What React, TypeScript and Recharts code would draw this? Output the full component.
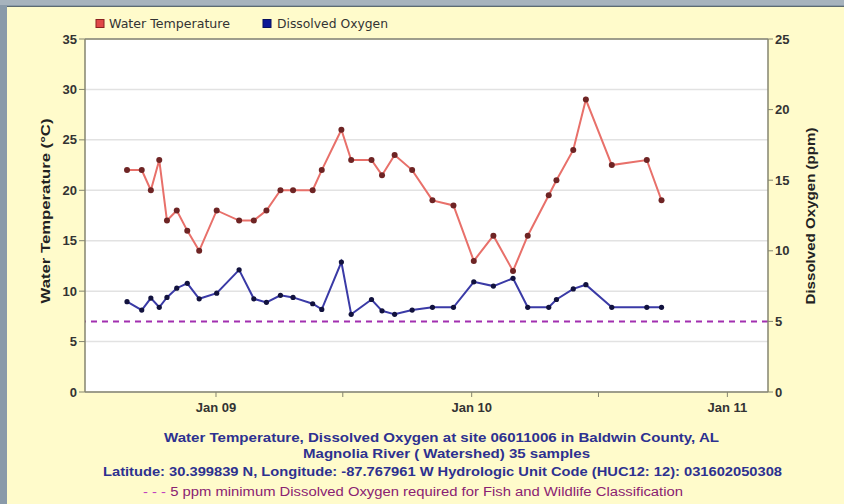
import React from 'react';
import { LineChart, Line, XAxis, YAxis, CartesianGrid, ReferenceLine } from 'recharts';

// ---- data ----
const sampleDates = [
  '2008-08-27', '2008-09-17', '2008-09-30', '2008-10-12', '2008-10-23', '2008-11-06', '2008-11-21',
  '2008-12-08', '2009-01-02', '2009-02-03', '2009-02-24', '2009-03-14', '2009-04-03', '2009-04-21',
  '2009-05-19', '2009-06-01', '2009-06-29', '2009-07-13', '2009-08-11', '2009-08-26', '2009-09-13',
  '2009-10-08', '2009-11-06', '2009-12-06', '2010-01-04', '2010-02-01', '2010-03-01', '2010-03-22',
  '2010-04-21', '2010-05-02', '2010-05-26', '2010-06-13', '2010-07-20', '2010-09-08', '2010-09-29',
];
const waterTemperature = [
  22, 22, 20, 23, 17, 18, 16, 14, 18, 17, 17, 18, 20, 20, 20, 22, 26, 23, 23, 21.5, 23.5, 22, 19,
  18.5, 13, 15.5, 12, 15.5, 19.5, 21, 24, 29, 22.5, 23, 19,
];
const dissolvedOxygen = [
  6.4, 5.8, 6.65, 6.0, 6.7, 7.35, 7.7, 6.6, 7.0, 8.65, 6.6, 6.35, 6.85, 6.7, 6.25, 5.85, 9.2, 5.5,
  6.55, 5.75, 5.5, 5.8, 6.0, 6.0, 7.8, 7.5, 8.05, 6.0, 6.0, 6.55, 7.3, 7.6, 6.0, 6.0, 6.0,
];
const xTickDates = ['2009-01-01', '2009-07-01', '2010-01-01', '2010-07-01', '2011-01-01'];
const xTickLabels = ['Jan 09', '', 'Jan 10', '', 'Jan 11'];
const xDomainDates = ['2008-06-28', '2011-02-28'];
const leftTicks = [0, 5, 10, 15, 20, 25, 30, 35];
const rightTicks = [0, 5, 10, 15, 20, 25];
const doMinimum = 5;

const seriesNames = ['Water Temperature', 'Dissolved Oxygen'];
const titleLines = [
  'Water Temperature, Dissolved Oxygen at site 06011006 in Baldwin County, AL',
  'Magnolia River ( Watershed) 35 samples',
  'Latitude: 30.399839 N, Longitude: -87.767961 W Hydrologic Unit Code (HUC12: 12): 031602050308',
];
const noteLine = '5 ppm minimum Dissolved Oxygen required for Fish and Wildlife Classification';

const toTs = (d: string) => Date.parse(d + 'T00:00:00Z');
const data = sampleDates.map((d, i) => ({
  t: toTs(d),
  temp: waterTemperature[i],
  oxy: dissolvedOxygen[i],
}));
const xTicks = xTickDates.map(toTs);
const xLabelMap: Record<number, string> = {};
xTicks.forEach((t, i) => (xLabelMap[t] = xTickLabels[i]));

const AXIS = '#85856f';
const FONT = '"Liberation Sans", Arial, sans-serif';
const tickStyle = { fontSize: 13, fontWeight: 'bold' as const, fill: '#333', fontFamily: FONT };

export default function App() {
  return (
    <div style={{ position: 'absolute', left: 0, top: 0, width: 844, height: 504, background: '#8a9aa9', overflow: 'hidden' }}>
      <div style={{ position: 'absolute', left: 0, top: 0, width: 844, height: 5, background: '#a7b3bd' }} />
      <div style={{ position: 'absolute', left: 7, top: 6, width: 837, height: 498, background: '#FFFBCB', borderTop: '1px solid #5d6a70' }} />
      <div style={{ position: 'absolute', left: 0, top: 0 }}>
        <LineChart width={844} height={504} data={data} margin={{ top: 39, right: 36, bottom: 82, left: 45 }}>
          <CartesianGrid vertical={false} stroke="#e2e2e2" strokeWidth={1.5} fill="#ffffff" yAxisId="left" />
          <XAxis
            dataKey="t"
            type="number"
            scale="time"
            domain={xDomainDates.map(toTs)}
            ticks={xTicks}
            tickFormatter={(v: number) => xLabelMap[v] ?? ''}
            tick={tickStyle}
            tickSize={5}
            tickMargin={6}
            height={30}
            axisLine={{ stroke: AXIS, strokeWidth: 1.5 }}
            tickLine={{ stroke: AXIS }}
            allowDataOverflow
          />
          <YAxis
            yAxisId="left"
            domain={[0, 35]}
            ticks={leftTicks}
            tick={tickStyle}
            width={40}
            tickSize={6}
            tickMargin={2}
            axisLine={{ stroke: AXIS, strokeWidth: 1.5 }}
            tickLine={{ stroke: AXIS }}
          />
          <YAxis
            yAxisId="right"
            orientation="right"
            domain={[0, 25]}
            ticks={rightTicks}
            tick={tickStyle}
            width={40}
            tickSize={5}
            tickMargin={2}
            axisLine={{ stroke: AXIS, strokeWidth: 1.5 }}
            tickLine={{ stroke: AXIS }}
          />
          <ReferenceLine yAxisId="left" y={35} stroke={AXIS} strokeWidth={1.5} />
          <ReferenceLine yAxisId="right" y={doMinimum} stroke="#a22fb0" strokeWidth={2} strokeDasharray="6 5" />
          <Line
            yAxisId="left"
            dataKey="temp"
            stroke="#e8706a"
            strokeWidth={2}
            dot={{ r: 3, fill: '#6e2424', stroke: 'none' }}
            isAnimationActive={false}
          />
          <Line
            yAxisId="right"
            dataKey="oxy"
            stroke="#3a3aa6"
            strokeWidth={2}
            dot={{ r: 2.6, fill: '#12123e', stroke: 'none' }}
            isAnimationActive={false}
          />
        </LineChart>
      </div>
      <svg width={844} height={504} style={{ position: 'absolute', left: 0, top: 0, pointerEvents: 'none' }}>
        {/* legend */}
        <rect x={96} y={19.5} width={8} height={8} fill="#e04848" stroke="#8a2020" strokeWidth={1} />
        <text x={109} y={28} fontSize={12} fontFamily='"DejaVu Sans", sans-serif' fill="#333" textLength={121} lengthAdjust="spacingAndGlyphs">
          {seriesNames[0]}
        </text>
        <rect x={263} y={19.5} width={8} height={8} fill="#0c1896" stroke="#081060" strokeWidth={1} />
        <text x={277} y={28} fontSize={12} fontFamily='"DejaVu Sans", sans-serif' fill="#333" textLength={111} lengthAdjust="spacingAndGlyphs">
          {seriesNames[1]}
        </text>
        {/* axis titles */}
        <text transform="translate(50,211) rotate(-90)" textAnchor="middle" fontSize={13} fontWeight="bold" fontFamily={FONT} fill="#222" textLength={185} lengthAdjust="spacingAndGlyphs">
          Water Temperature (°C)
        </text>
        <text transform="translate(815,216) rotate(-90)" textAnchor="middle" fontSize={13} fontWeight="bold" fontFamily={FONT} fill="#222" textLength={177} lengthAdjust="spacingAndGlyphs">
          Dissolved Oxygen (ppm)
        </text>
        {/* footer */}
        <text x={164} y={442} fontSize={13} fontWeight="bold" fontFamily={FONT} fill="#2d3190" textLength={555} lengthAdjust="spacingAndGlyphs">
          {titleLines[0]}
        </text>
        <text x={303} y={458} fontSize={13} fontWeight="bold" fontFamily={FONT} fill="#2d3190" textLength={287} lengthAdjust="spacingAndGlyphs">
          {titleLines[1]}
        </text>
        <text x={103} y={476} fontSize={13} fontWeight="bold" fontFamily={FONT} fill="#2d3190" textLength={679} lengthAdjust="spacingAndGlyphs">
          {titleLines[2]}
        </text>
        <text x={143} y={496} fontSize={12} fontFamily={FONT} fill="#8a2272" textLength={540} lengthAdjust="spacingAndGlyphs">
          <tspan fill="#c040c0">- - - </tspan>
          {noteLine}
        </text>
      </svg>
    </div>
  );
}
